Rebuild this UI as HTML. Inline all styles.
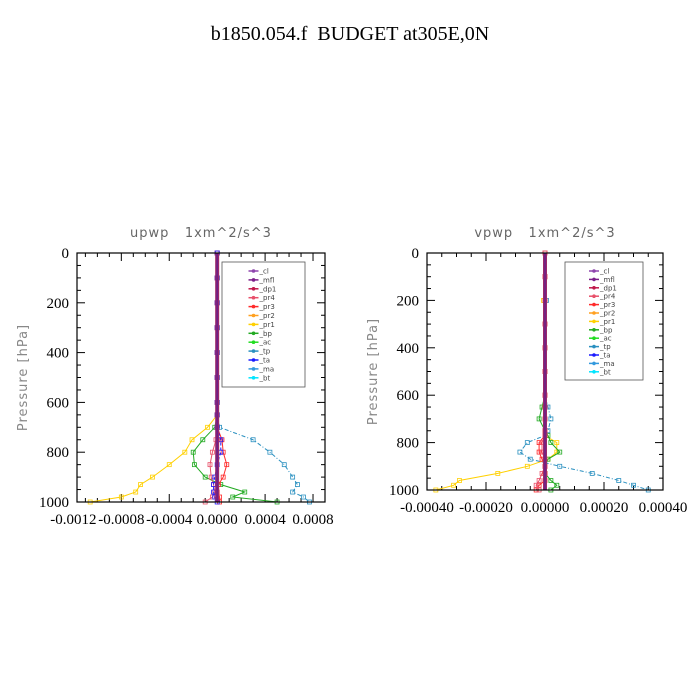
<!DOCTYPE html>
<html><head><meta charset="utf-8">
<style>
body{margin:0;background:#fff;}
svg{display:block;}
text{white-space:pre;}
</style></head>
<body>
<svg id="chart" width="700" height="700" xmlns="http://www.w3.org/2000/svg">
<rect width="700" height="700" fill="#fff"/>
<text x="350" y="40" text-anchor="middle" font-family="Liberation Serif, serif" font-size="20" fill="#000" xml:space="preserve">b1850.054.f  BUDGET at305E,0N</text>
</svg>
<script>
// ---- data ----
const seriesNames = ["_cl","_mfl","_dp1","_pr4","_pr3","_pr2","_pr1","_bp","_ac","_tp","_ta","_ma","_bt"];
const seriesColors = ["#8e44ad","#7b1f8a","#c0184a","#e8506a","#ff2a2a","#ffa020","#ffd000","#22aa22","#22dd22","#2a90c0","#1a1aff","#3399dd","#00e5ff"];
// left panel (upwp)
const upPres = [0,100,200,300,400,500,600,650,700,750,800,850,900,930,960,980,1000];
const upPr1 = [0,0,0,0,0,0,0,0,-0.00008,-0.00021,-0.00027,-0.0004,-0.00054,-0.00064,-0.00068,-0.0008,-0.00106];
const upBp  = [0,0,0,0,0,0,0,0,-0.00002,-0.00012,-0.0002,-0.00019,-0.0001,0.00003,0.00023,0.00013,0.0005];
const upTp  = [0,0,0,0,0,0,0,0,0.00002,0.0003,0.00044,0.00056,0.00063,0.00067,0.00063,0.00072,0.00077];
const upPr3 = [0,0,0,0,0,0,0,0,0,0.00004,0.00005,0.00008,0.00005,0.00001,0,0.00002,0.00002];
const upPr4 = [0,0,0,0,0,0,0,0,0,-0.00001,-0.00004,-0.00006,-0.00005,-0.00003,-0.00002,-0.00004,-0.0001];
const upTa  = [0,0,0,0,0,0,0,0,0,0.00003,0.00003,0,-0.00002,-0.00003,-0.00003,-0.00002,0];
// right panel (vpwp)
const vpPres = [0,100,200,300,400,500,600,650,700,750,770,800,840,870,900,930,960,980,1000];
const vpPr1 = [0,0,-0.000005,0,0,0,0,0,0,0,0,0.00004,0.00004,0.00001,-0.00006,-0.00016,-0.00029,-0.00031,-0.00037];
const vpBp  = [0,0,0,0,0,0,0,-0.00001,-0.00002,0,0.00001,0.00002,0.00005,0.00001,0,0,0.00002,0.00004,0.00002];
const vpTp  = [0,0,0.000005,0,0,0,0,0.00001,0.00002,0.00001,0,-0.00006,-0.000085,-0.00005,0.00005,0.00016,0.00025,0.0003,0.00035];
const vpPr3 = [0,0,0,0,0,0,0,0,0,0,0,-0.00002,-0.00002,-0.00001,0,0,0,-0.00002,-0.00003];
const vpPr4 = [0,0,0,0,0,0,0,0,0,0,0,-0.00001,-0.00001,0,0,-0.00001,-0.00002,-0.00003,-0.00002];
const upXTicks = ["-0.0012","-0.0008","-0.0004","0.0000","0.0004","0.0008"];
const vpXTicks = ["-0.00040","-0.00020","0.00000","0.00020","0.00040"];
const yTicks = [0,200,400,600,800,1000];

const NS="http://www.w3.org/2000/svg";
const svg=document.getElementById('chart');
function mk(tag,attrs,parent){const e=document.createElementNS(NS,tag);for(const k in attrs)e.setAttribute(k,attrs[k]);(parent||svg).appendChild(e);return e;}

function panel(cfg){
  const g=mk('g',{});
  
  
  const {x0,x1,y0,y1,xmin,xmax}=cfg;
  const X=v=>x0+(v-xmin)/(xmax-xmin)*(x1-x0);
  const Y=p=>y0+p/1000*(y1-y0);
  const t=mk('text',{x:(x0+x1)/2,y:237,'text-anchor':'middle','font-family':'DejaVu Sans, sans-serif','font-size':13,fill:'#666','letter-spacing':'1'},g);
  t.textContent=cfg.title;
  
  
  const yl=mk('text',{x:0,y:0,'text-anchor':'middle','font-family':'DejaVu Sans, sans-serif','font-size':13,fill:'#888','letter-spacing':'1',transform:`translate(${x0-50},${(y0+y1)/2}) rotate(-90)`},g);
  yl.textContent='Pressure [hPa]';
  
  
  for(let p=0;p<=1000;p+=50){
    const big=p%200===0, L=big?8:4;
    mk('line',{x1:x0,x2:x0+L,y1:Y(p),y2:Y(p),stroke:'#000'},g);
    mk('line',{x1:x1,x2:x1-L,y1:Y(p),y2:Y(p),stroke:'#000'},g);
  }
  yTicks.forEach(p=>{
    const tt=mk('text',{x:x0-8,y:Y(p)+5,'text-anchor':'end','font-family':'Liberation Serif, serif','font-size':15},g);
    tt.textContent=p;
    
    
  });
  for(let v=cfg.minorStart;v<=xmax+1e-12;v+=cfg.minorStep){
    if(v<xmin-1e-12)continue;
    const k=Math.round(v/cfg.minorStep), big=k%cfg.majorEvery===0, L=big?8:4;
    mk('line',{x1:X(v),x2:X(v),y1:y0,y2:y0+L,stroke:'#000'},g);
    mk('line',{x1:X(v),x2:X(v),y1:y1,y2:y1-L,stroke:'#000'},g);
  }
  cfg.xTicks.forEach(s=>{
    const v=parseFloat(s);
    const tt=mk('text',{x:X(v),y:y1+22,'text-anchor':'middle','font-family':'Liberation Serif, serif','font-size':15},g);
    tt.textContent=s;
    
    
  });
  cfg.series.forEach(s=>{
    const pts=s.vals.map((v,i)=>X(v).toFixed(1)+','+Y(cfg.pres[i]).toFixed(1)).join(' ');
    const pl=mk('polyline',{points:pts,fill:'none',stroke:s.color,'stroke-width':1,'stroke-dasharray':s.dash||'none'},g);
    
    
    s.vals.forEach((v,i)=>{
      const m=mk('rect',{x:X(v)-2,y:Y(cfg.pres[i])-2,width:4,height:4,fill:'none',stroke:s.color,'stroke-width':0.8},g);
      
      
    });
  });
  const z=mk('rect',{x:X(0)-2,y:y0,width:4,height:y1-y0,fill:'#9b2a6a'},g);
  
  
  mk('line',{x1:X(0),x2:X(0),y1:y0,y2:y1,stroke:'#6a1f8a','stroke-width':1.5},g);
  mk('rect',{x:x0,y:y0,width:x1-x0,height:y1-y0,fill:'none',stroke:'#000','stroke-width':1.2},g);
  const lg=mk('g',{},g);
  
  
  mk('rect',{x:cfg.lx,y:262,width:cfg.lw,height:cfg.lh,fill:'#fff',stroke:'#555','stroke-width':0.8},lg);
  seriesNames.forEach((n,i)=>{
    const yy=271+i*cfg.ls, lx=cfg.lx+cfg.lw/2-15;
    mk('line',{x1:lx,x2:lx+10,y1:yy,y2:yy,stroke:seriesColors[i],'stroke-width':1.5},lg);
    mk('circle',{cx:lx+5,cy:yy,r:1.8,fill:seriesColors[i]},lg);
    const tt=mk('text',{x:lx+11,y:yy+2.5,'font-family':'DejaVu Sans, sans-serif','font-size':7,fill:'#444'},lg);
    tt.textContent=n;
    
    
  });
}

panel({name:'upwp-panel',title:'upwp   1xm^2/s^3',x0:77,x1:325,y0:253,y1:502,xmin:-0.00117,xmax:0.00090,
  xTicks:upXTicks,minorStart:-0.0011,minorStep:0.0001,majorEvery:4,pres:upPres,
  lx:222,lw:83,lh:125,ls:8.9,
  series:[{name:'_pr1',color:'#ffd000',vals:upPr1},{name:'_bp',color:'#22aa22',vals:upBp},
    {name:'_tp',color:'#2a90c0',vals:upTp,dash:'4,2,1,2'},{name:'_pr3',color:'#ff2a2a',vals:upPr3},
    {name:'_pr4',color:'#e8506a',vals:upPr4},{name:'_ta',color:'#1a1aff',vals:upTa,dash:'3,2'}]});
panel({name:'vpwp-panel',title:'vpwp   1xm^2/s^3',x0:427,x1:663,y0:253,y1:490,xmin:-0.0004,xmax:0.0004,
  xTicks:vpXTicks,minorStart:-0.0004,minorStep:0.00005,majorEvery:4,pres:vpPres,
  lx:565,lw:78,lh:118,ls:8.4,
  series:[{name:'_pr1',color:'#ffd000',vals:vpPr1},{name:'_bp',color:'#22aa22',vals:vpBp},
    {name:'_tp',color:'#2a90c0',vals:vpTp,dash:'4,2,1,2'},{name:'_pr3',color:'#ff2a2a',vals:vpPr3},
    {name:'_pr4',color:'#e8506a',vals:vpPr4}]});
</script>
</body></html>
